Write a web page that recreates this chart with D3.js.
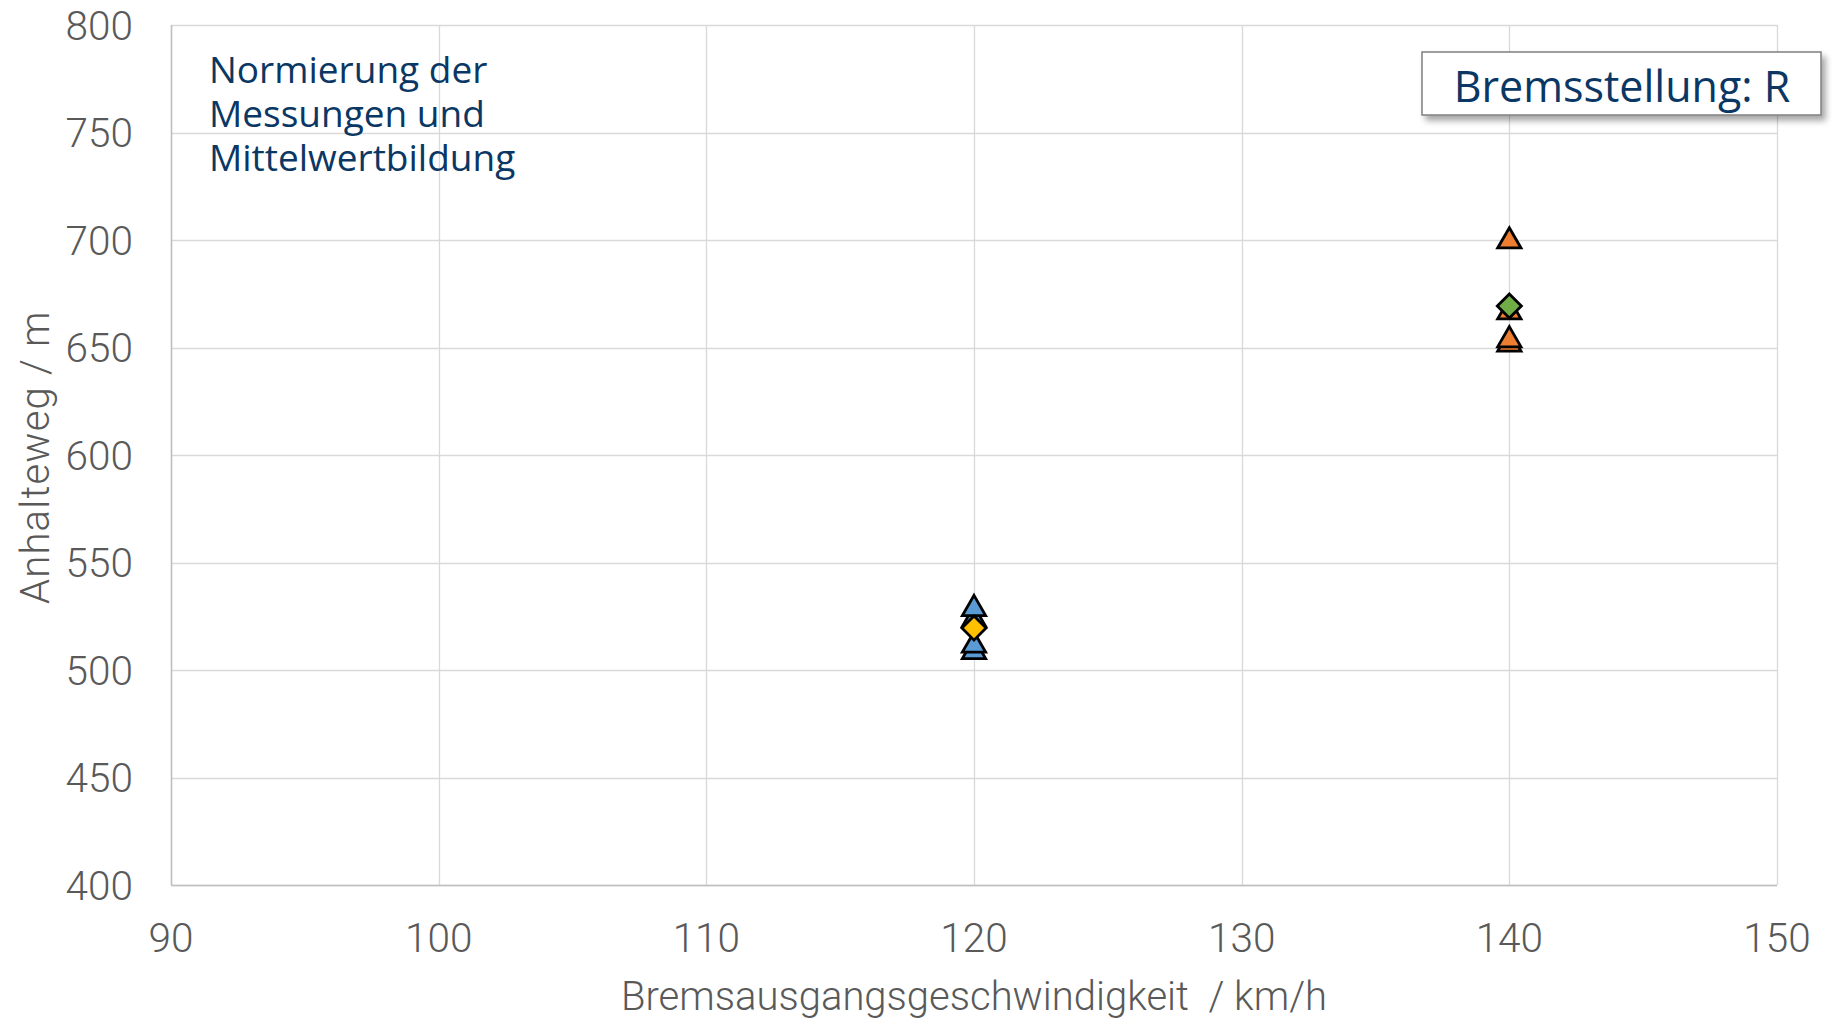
<!DOCTYPE html>
<html>
<head>
<meta charset="utf-8">
<script src="https://cdn.jsdelivr.net/npm/d3@7"></script>
<style>
  body { margin: 0; background: #fff; }
  svg { display: block; }
</style>
</head>
<body>
<svg width="1833" height="1019"></svg>
<script>
// measured values (speed km/h, stopping distance m)
var speedsR120 = [120, 120, 120, 120];
var distR120 = [530, 525, 513, 510];
var speedsR140 = [140, 140, 140, 140];
var distR140 = [701, 668, 655, 653];
// averages
var meanSpeeds = [120, 140];
var meanDist = [519.5, 669.3];

var xTicks = [90, 100, 110, 120, 130, 140, 150];
var yTicks = [400, 450, 500, 550, 600, 650, 700, 750, 800];

var svg = d3.select("svg"),
  margin = { left: 171, right: 56, top: 25, bottom: 134 },
  width = +svg.attr("width") - margin.left - margin.right,
  height = +svg.attr("height") - margin.top - margin.bottom,
  g = svg.append("g").attr("transform", "translate(" + margin.left + "," + margin.top + ")");

var x = d3.scaleLinear().domain([90, 150]).range([0, width]);
var y = d3.scaleLinear().domain([400, 800]).range([height, 0]);

// grid
g.append("g").selectAll("line")
  .data(yTicks)
  .enter().append("line")
  .attr("x1", 0).attr("x2", width)
  .attr("y1", function(d) { return Math.round(y(d)) + 0.5; })
  .attr("y2", function(d) { return Math.round(y(d)) + 0.5; })
  .attr("stroke", "#d9d9d9").attr("stroke-width", 1.3);

g.append("g").selectAll("line")
  .data(xTicks)
  .enter().append("line")
  .attr("y1", 0).attr("y2", height)
  .attr("x1", function(d) { return Math.round(x(d)) + 0.5; })
  .attr("x2", function(d) { return Math.round(x(d)) + 0.5; })
  .attr("stroke", "#d9d9d9").attr("stroke-width", 1.3);

// axis lines
g.append("line").attr("x1", 0).attr("x2", width).attr("y1", height + 0.5).attr("y2", height + 0.5)
  .attr("stroke", "#bfbfbf").attr("stroke-width", 1.5);
g.append("line").attr("x1", 0.5).attr("x2", 0.5).attr("y1", 0).attr("y2", height)
  .attr("stroke", "#bfbfbf").attr("stroke-width", 1.5);

// tick labels
var tickFont = "Roboto, sans-serif";
g.append("g").selectAll("text")
  .data(yTicks)
  .enter().append("text")
  .attr("x", -38)
  .attr("y", function(d) { return y(d); })
  .attr("dy", "0.36em")
  .attr("text-anchor", "end")
  .attr("font-family", tickFont)
  .attr("font-weight", 300)
  .attr("font-size", 40.5)
  .attr("fill", "#595959")
  .text(function(d) { return d; });

g.append("g").selectAll("text")
  .data(xTicks)
  .enter().append("text")
  .attr("x", function(d) { return x(d); })
  .attr("y", height + 52)
  .attr("dy", "0.36em")
  .attr("text-anchor", "middle")
  .attr("font-family", tickFont)
  .attr("font-weight", 300)
  .attr("font-size", 40.5)
  .attr("fill", "#595959")
  .text(function(d) { return d; });

// axis titles
svg.append("text")
  .attr("x", margin.left + x(120))
  .attr("y", 996)
  .attr("dy", "0.36em")
  .attr("text-anchor", "middle")
  .attr("font-family", tickFont)
  .attr("font-weight", 300)
  .attr("font-size", 40)
  .attr("fill", "#595959")
  .attr("xml:space", "preserve")
  .text("Bremsausgangsgeschwindigkeit  / km/h");

svg.append("text")
  .attr("transform", "translate(35," + (margin.top + y(599)) + ") rotate(-90)")
  .attr("dy", "0.36em")
  .attr("text-anchor", "middle")
  .attr("font-family", tickFont)
  .attr("font-weight", 300)
  .attr("font-size", 40)
  .attr("letter-spacing", 1.2)
  .attr("fill", "#595959")
  .text("Anhalteweg / m");

// annotation (one text block, three lines)
var note = ["Normierung der", "Messungen und", "Mittelwertbildung"];
svg.append("text")
  .attr("font-family", "'Open Sans', sans-serif")
  .attr("font-size", 37)
  .attr("fill", "#0b3764")
  .selectAll("tspan")
  .data(note)
  .enter().append("tspan")
  .attr("x", 209)
  .attr("y", function(d, i) { return 83 + i * 44; })
  .text(function(d) { return d; });

// legend box with shadow
var defs = svg.append("defs");
var filt = defs.append("filter").attr("id", "shadow").attr("x", "-10%").attr("y", "-30%").attr("width", "130%").attr("height", "180%");
filt.append("feDropShadow").attr("dx", 4).attr("dy", 5).attr("stdDeviation", 3).attr("flood-color", "#000").attr("flood-opacity", 0.35);

var box = svg.append("g");
box.append("rect")
  .attr("x", 1422).attr("y", 52)
  .attr("width", 399).attr("height", 63)
  .attr("fill", "#fff")
  .attr("stroke", "#7f7f7f")
  .attr("stroke-width", 1.5)
  .attr("filter", "url(#shadow)");
box.append("text")
  .attr("x", 1622).attr("y", 87)
  .attr("dy", "0.36em")
  .attr("text-anchor", "middle")
  .attr("font-family", "'Open Sans', sans-serif")
  .attr("font-size", 43)
  .attr("fill", "#0b3764")
  .text("Bremsstellung: R");

// markers
var triSize = 235,
  triH = Math.sqrt(triSize * Math.sqrt(3)), // height of the equilateral triangle
  tri = d3.symbol().type(d3.symbolTriangle).size(triSize);
var dia = d3.symbol().type(d3.symbolSquare).size(290);

function drawTriangles(xs, ys, color) {
  // d3 centres triangles on the centroid, excel on the box centre
  g.append("g").selectAll("path")
    .data(ys)
    .enter().append("path")
    .attr("d", tri)
    .attr("transform", function(d, i) { return "translate(" + x(xs[i]) + "," + (y(d) + triH / 6) + ")"; })
    .attr("fill", color)
    .attr("stroke", "#000")
    .attr("stroke-width", 2.8)
    .attr("stroke-linejoin", "miter");
}

drawTriangles(speedsR120, distR120.slice().reverse(), "#5b9bd5");
drawTriangles(speedsR140, distR140.slice().reverse(), "#ed7d31");

var meanColors = ["#ffc000", "#70ad47"];
g.append("g").selectAll("path")
  .data(meanDist)
  .enter().append("path")
  .attr("d", dia)
  .attr("transform", function(d, i) { return "translate(" + x(meanSpeeds[i]) + "," + y(d) + ") rotate(45)"; })
  .attr("fill", function(d, i) { return meanColors[i]; })
  .attr("stroke", "#000")
  .attr("stroke-width", 2.8);
</script>
</body>
</html>
